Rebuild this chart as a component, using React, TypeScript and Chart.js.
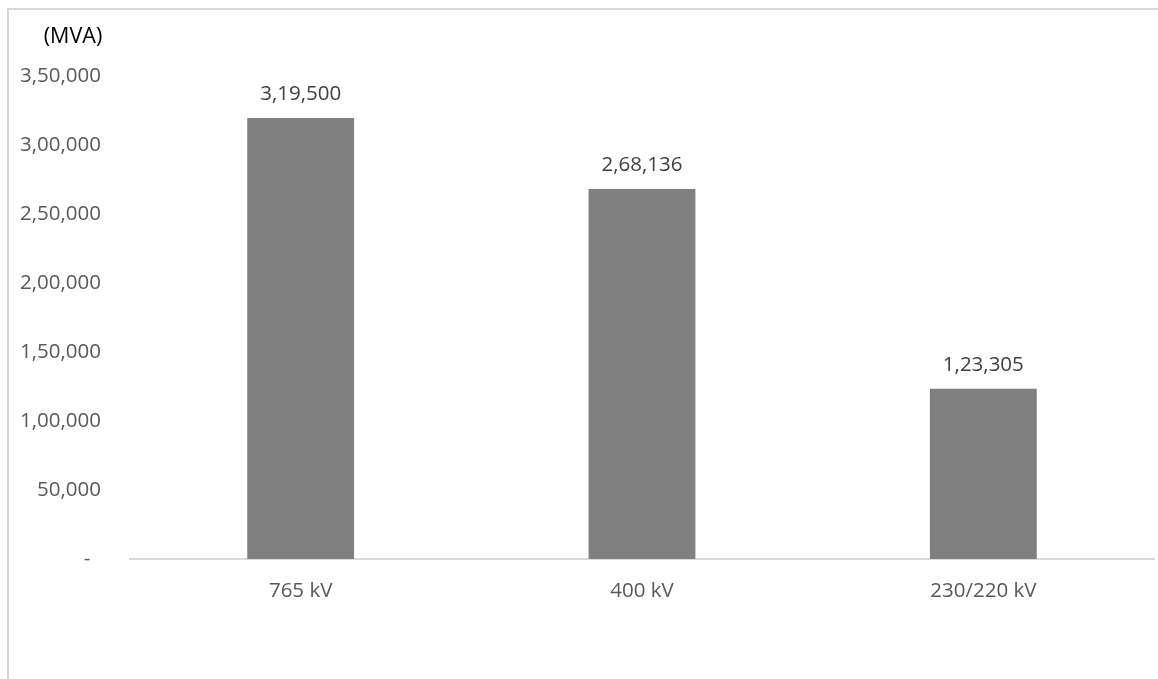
import React, { useEffect, useRef } from "react";
import { Chart, registerables } from "chart.js";

Chart.register(...registerables);

const categories: string[] = ["765 kV", "400 kV", "230/220 kV"];
const capacityMVA: number[] = [319500, 268136, 123305];
const yTickValues: number[] = [0, 50000, 100000, 150000, 200000, 250000, 300000, 350000];
const unitLabel = "(MVA)";

const FONT = "'Open Sans', 'Noto Sans', sans-serif";

function formatIndian(v: number): string {
  const s = Math.round(v).toString();
  if (s.length <= 3) return s;
  const last3 = s.slice(-3);
  let rest = s.slice(0, -3);
  const parts: string[] = [];
  while (rest.length > 2) {
    parts.unshift(rest.slice(-2));
    rest = rest.slice(0, -2);
  }
  if (rest.length) parts.unshift(rest);
  return parts.join(",") + "," + last3;
}

const extrasPlugin = {
  id: "extras",
  afterDatasetsDraw(chart: any) {
    const ctx = chart.ctx;
    ctx.save();
    ctx.font = `20.5px ${FONT}`;
    ctx.fillStyle = "#404040";
    ctx.textAlign = "center";
    ctx.textBaseline = "middle";
    const meta = chart.getDatasetMeta(0);
    meta.data.forEach((bar: any, i: number) => {
      ctx.fillText(formatIndian(capacityMVA[i]), bar.x, bar.y - 24);
    });
    ctx.fillStyle = "#000000";
    ctx.font = `21.5px ${FONT}`;
    ctx.textAlign = "center";
    ctx.fillText(unitLabel, 73, 37);
    ctx.restore();
  },
};

export default function App() {
  const ref = useRef<HTMLCanvasElement | null>(null);
  useEffect(() => {
    if (!ref.current) return;
    const chart = new Chart(ref.current, {
      type: "bar",
      data: {
        labels: categories,
        datasets: [
          {
            data: capacityMVA,
            backgroundColor: "#808080",
            borderWidth: 0,
            categoryPercentage: 1,
            barPercentage: 0.313,
          },
        ],
      },
      options: {
        animation: false,
        responsive: false,
        devicePixelRatio: 1,
        layout: { padding: { top: 76, right: 4, left: 0, bottom: 0 } },
        plugins: { legend: { display: false }, tooltip: { enabled: false }, title: { display: false } },
        scales: {
          x: {
            grid: { display: false, drawTicks: false },
            border: { display: true, color: "#d9d9d9", width: 2 },
            ticks: { color: "#595959", font: { family: FONT, size: 20.5 }, padding: 20 },
            afterFit: (s: any) => {
              s.height = 120;
            },
          },
          y: {
            min: 0,
            max: 350000,
            grid: { display: false, drawTicks: false },
            border: { display: false },
            afterBuildTicks: (s: any) => {
              s.ticks = yTickValues.map((v) => ({ value: v }));
            },
            afterFit: (s: any) => {
              s.width = 130;
            },
            ticks: {
              color: "#595959",
              font: { family: FONT, size: 20.5 },
              padding: 29,
              callback: (v: any) => (Number(v) === 0 ? "-\u00a0\u00a0" : formatIndian(Number(v))),
            },
          },
        },
      },
      plugins: [extrasPlugin],
    });
    return () => chart.destroy();
  }, []);
  return (
    <div>
      <div
        style={{
          position: "fixed",
          left: 7,
          top: 8,
          width: 1151,
          height: 671,
          borderLeft: "2px solid #d9d9d9",
          borderTop: "2px solid #d9d9d9",
          boxSizing: "border-box",
        }}
      />
      <canvas
        ref={ref}
        width={1158}
        height={679}
        style={{ position: "fixed", left: 0, top: 0, width: 1158, height: 679 }}
      />
    </div>
  );
}
